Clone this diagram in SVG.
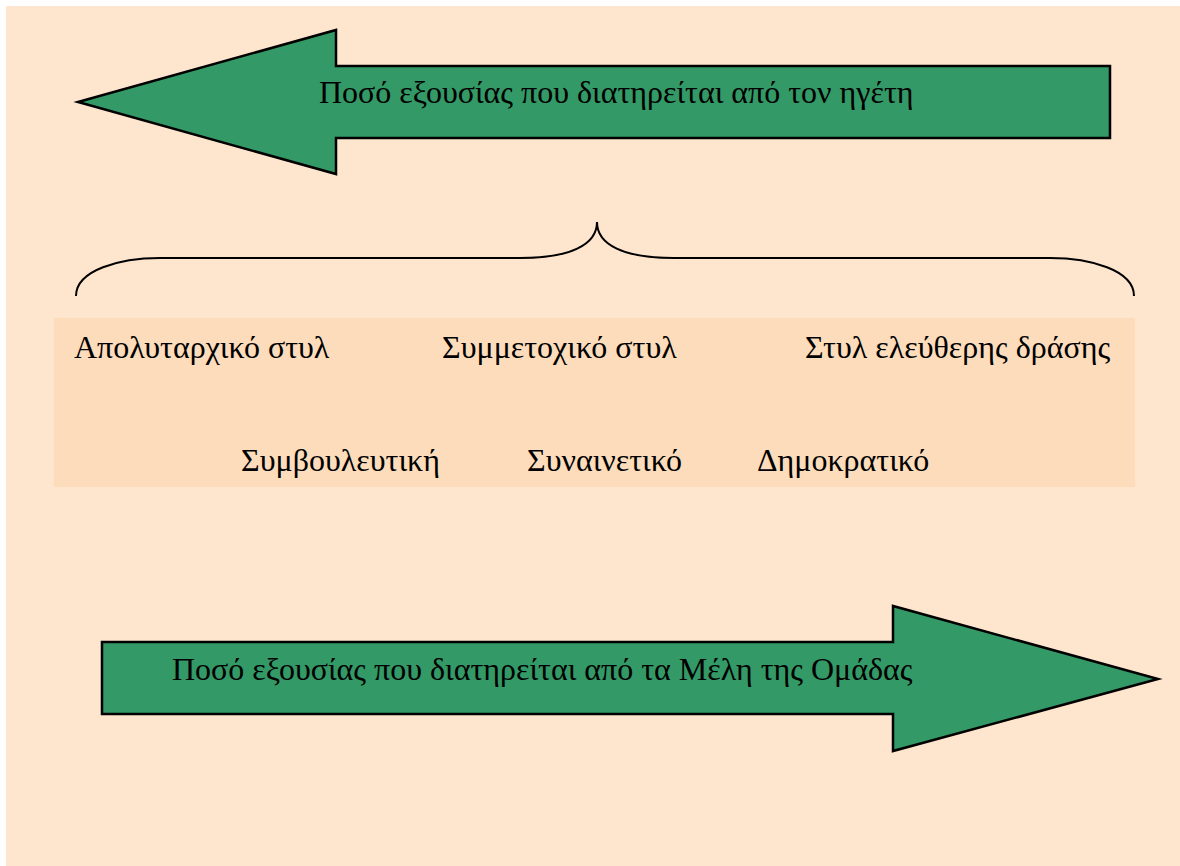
<svg xmlns="http://www.w3.org/2000/svg" width="1180" height="866" viewBox="0 0 1180 866">
  <style>
    .arrow { fill: #339966; stroke: #000; stroke-width: 2.5; stroke-linejoin: miter; }
    .label { font-family: "Liberation Serif", "Times New Roman", serif; font-size: 32px; fill: #000; }
    .brace { fill: none; stroke: #000; stroke-width: 2; }
  </style>
  <rect x="0" y="0" width="1180" height="866" fill="#ffffff"/>
  <rect x="6" y="6" width="1174" height="860" fill="#fee5cd"/>

  <!-- upper arrow: authority kept by the leader -->
  <g id="arrow-leader">
    <polygon class="arrow" points="78,102 336,30 336,66 1110,66 1110,138 336,138 336,174"/>
    <text class="label" x="319" y="103">Ποσό εξουσίας που διατηρείται από τον ηγέτη</text>
  </g>

  <!-- curly brace over the styles -->
  <g id="brace">
    <path class="brace" d="M76,296 C76,270 120,258 160,258 L520,258 C570,258 597,245 597,222 C597,245 624,258 674,258 L1050,258 C1090,258 1134,270 1134,296"/>
  </g>

  <!-- panel of leadership styles -->
  <g id="styles">
    <rect x="54" y="318" width="1081" height="169" fill="#fddcbb"/>
    <text class="label" x="74" y="358">Απολυταρχικό στυλ</text>
    <text class="label" x="442" y="358">Συμμετοχικό στυλ</text>
    <text class="label" x="805" y="358">Στυλ ελεύθερης δράσης</text>
    <text class="label" x="241" y="471">Συμβουλευτική</text>
    <text class="label" x="527" y="471">Συναινετικό</text>
    <text class="label" x="757" y="471">Δημοκρατικό</text>
  </g>

  <!-- lower arrow: authority kept by the group members -->
  <g id="arrow-members">
    <polygon class="arrow" points="102,642 893,642 893,606 1158,679 893,751 893,714 102,714"/>
    <text class="label" x="172" y="680">Ποσό εξουσίας που διατηρείται από τα Μέλη της Ομάδας</text>
  </g>
</svg>
